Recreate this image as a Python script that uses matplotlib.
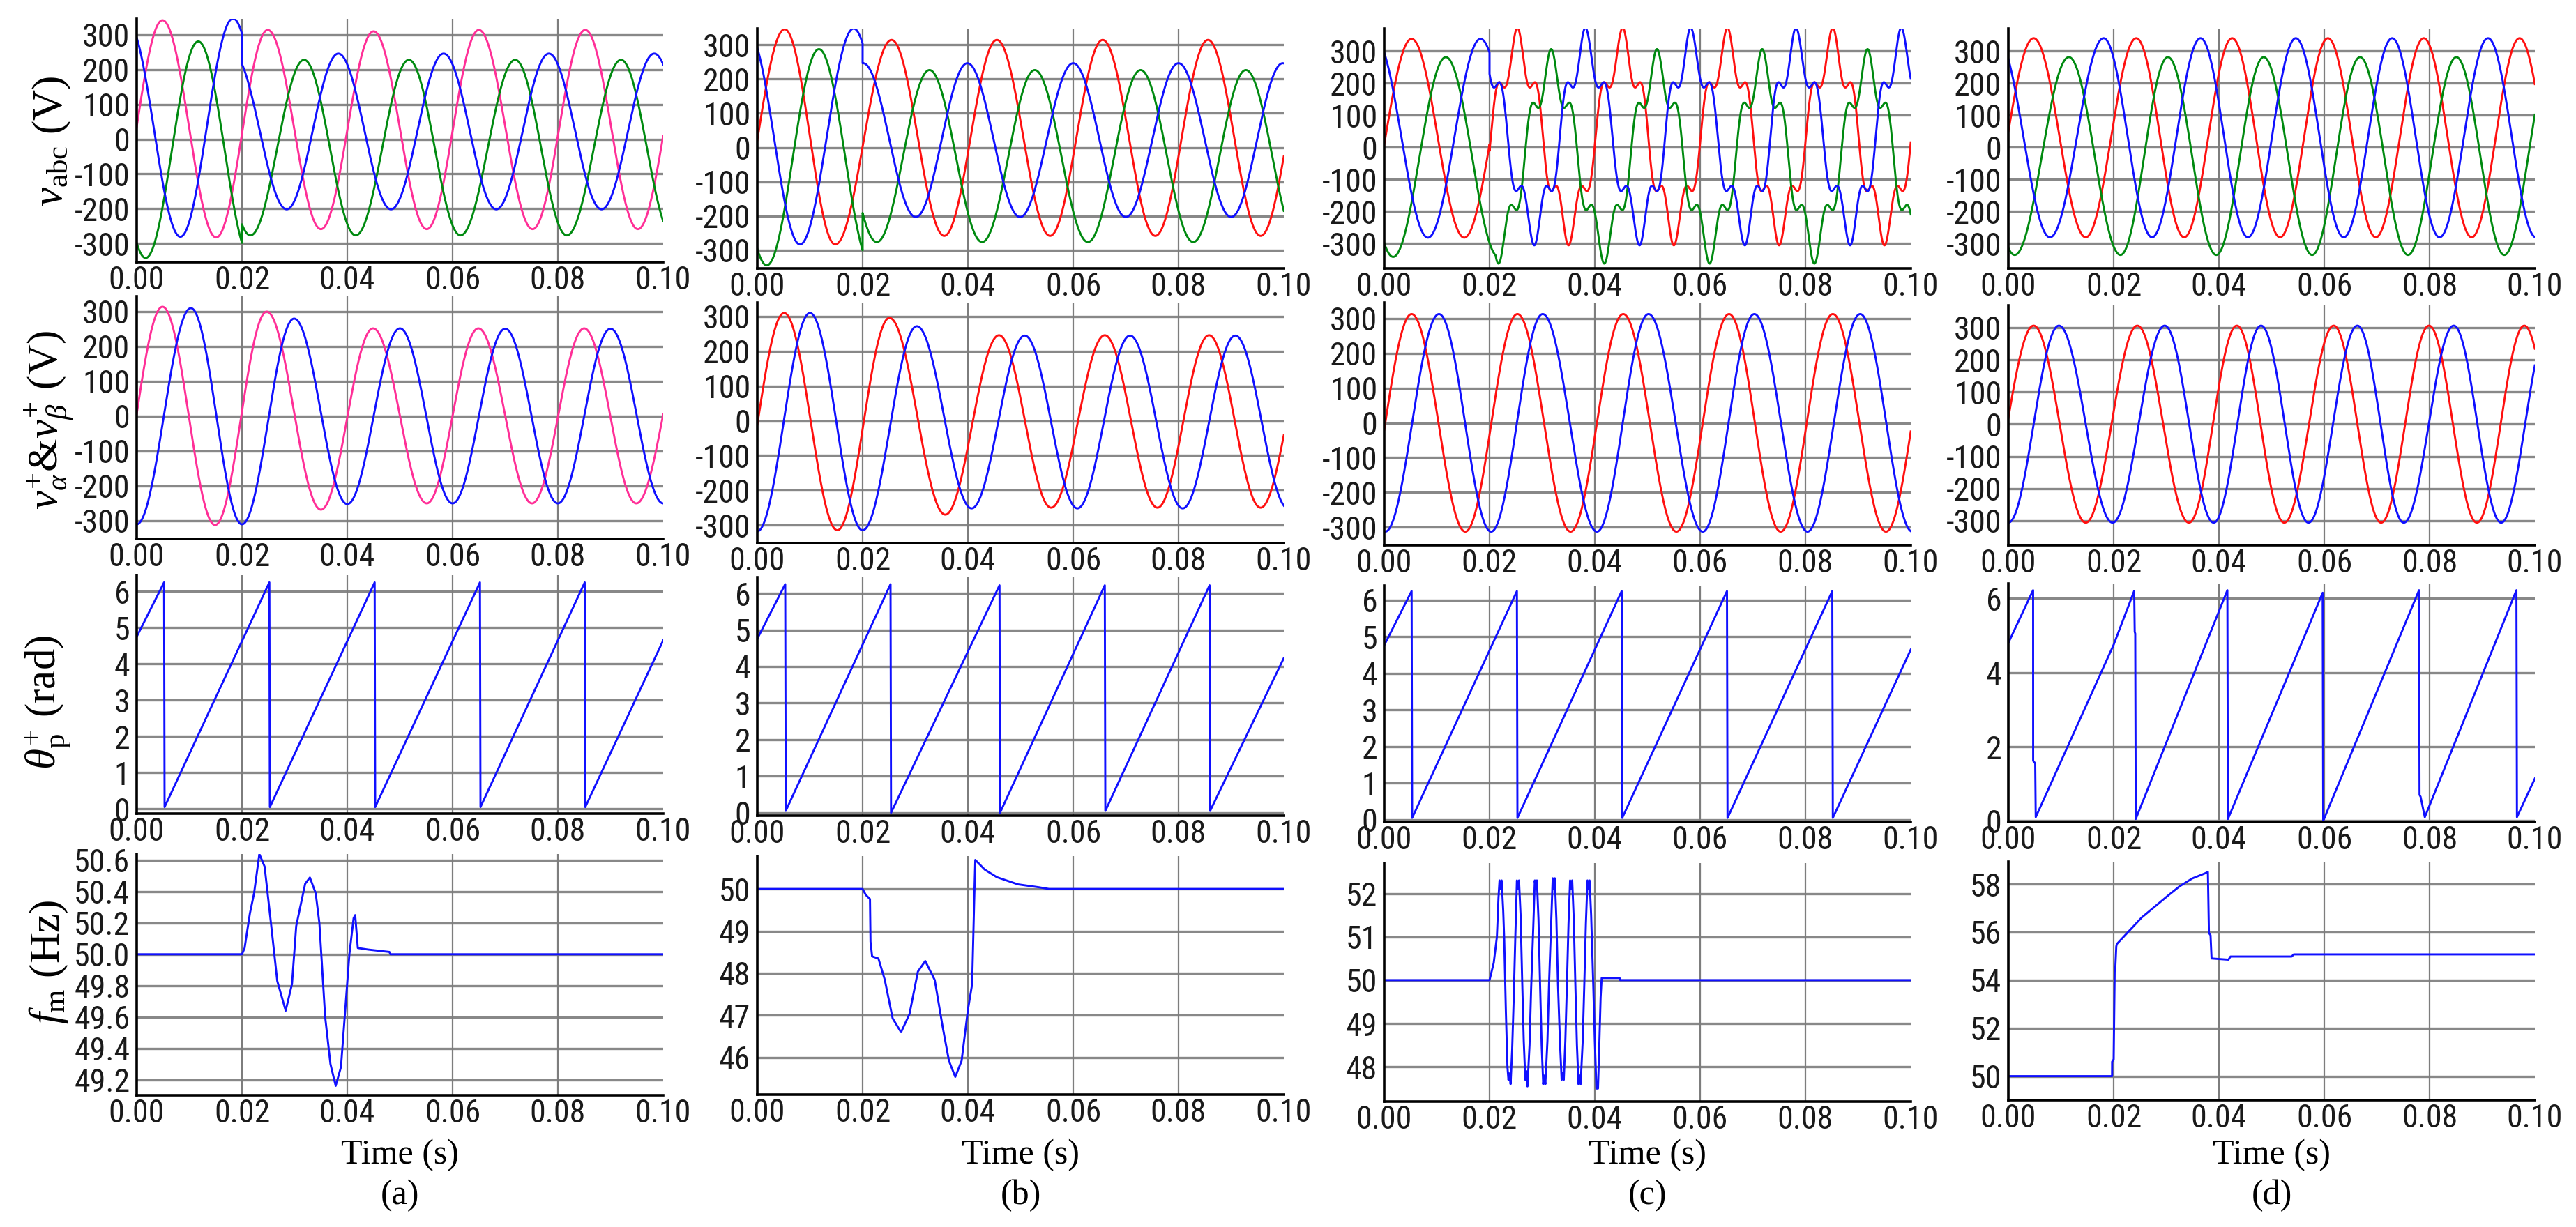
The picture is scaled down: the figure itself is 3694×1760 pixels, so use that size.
import os
import numpy as np
import matplotlib
matplotlib.use("Agg")
import matplotlib.pyplot as plt
from matplotlib import font_manager
from matplotlib.font_manager import FontProperties

# ---------------- data ----------------
FAULT_T = 0.02
C_GREEN_SWITCH = 0.0212
C_K5 = 0.18          # 5th-harmonic share of the distorted voltages in (c)

# ---- column (a) ----
A_R1_PINK_T = [-0.0050, 0.0049, 0.0151, 0.0249, 0.0350, 0.0450, 0.0551, 0.0650, 0.0752, 0.0852, 0.0952, 0.1052]
A_R1_PINK_V = [-282, 342, -283, 314, -259, 310, -259, 314, -259, 314, -259, 314]
A_R1_BLUE_PRE_T = [-0.0017, 0.0083, 0.0183, 0.0283]
A_R1_BLUE_PRE_V = [335, -281, 347, -281]
A_R1_BLUE_POST_T = [0.0183, 0.0285, 0.0383, 0.0483, 0.0583, 0.0683, 0.0783, 0.0883, 0.0983, 0.1083]
A_R1_BLUE_POST_V = [246, -202, 246, -202, 246, -202, 246, -202, 246, -202]
A_R1_GREEN_PRE_T = [-0.0083, 0.0017, 0.0117, 0.0217]
A_R1_GREEN_PRE_V = [281, -342, 281, -342]
A_R1_GREEN_POST_T = [0.0117, 0.0216, 0.0318, 0.0416, 0.0517, 0.0615, 0.0719, 0.0817, 0.0920, 0.1018]
A_R1_GREEN_POST_V = [228, -277, 228, -277, 228, -277, 228, -277, 228, -277]
A_R2_ALPHA_T = [-0.0050, 0.0049, 0.0149, 0.0247, 0.0350, 0.0449, 0.0551, 0.0649, 0.0751, 0.0850, 0.0949, 0.1050]
A_R2_ALPHA_V = [-312, 314, -312, 300, -268, 252, -250, 252, -250, 252, -250, 252]
A_R2_BETA_T = [-0.0100, 0.0000, 0.0103, 0.0200, 0.0299, 0.0400, 0.0500, 0.0600, 0.0700, 0.0800, 0.0900, 0.1000, 0.1100]
A_R2_BETA_V = [310, -310, 310, -310, 280, -252, 252, -250, 251, -250, 251, -250, 251]
A_R3_T = [0.0, 0.0052, 0.0053, 0.0252, 0.0253, 0.0452, 0.0453, 0.0652, 0.0653, 0.0851, 0.0852, 0.1]
A_R3_V = [4.75, 6.25, 0.05, 6.25, 0.05, 6.25, 0.05, 6.25, 0.05, 6.25, 0.05, 4.65]
A_R4_T = [0.0, 0.0200, 0.0205, 0.0215, 0.0223, 0.0233, 0.0243, 0.0255, 0.0267, 0.0283, 0.0295, 0.0303,
          0.0320, 0.0329, 0.0340, 0.0347, 0.0358, 0.0368, 0.0378, 0.0388, 0.0396, 0.0404, 0.0412, 0.0415,
          0.0420, 0.0440, 0.0480, 0.0482, 0.1]
A_R4_F = [50.0, 50.0, 50.04, 50.26, 50.39, 50.64, 50.56, 50.20, 49.83, 49.64, 49.81, 50.18,
          50.45, 50.49, 50.39, 50.20, 49.60, 49.30, 49.16, 49.28, 49.64, 50.00, 50.23, 50.25,
          50.04, 50.03, 50.015, 50.0, 50.0]

# ---- column (b) ----
B_R1_RED_T = [-0.0050, 0.0052, 0.0148, 0.0255, 0.0355, 0.0455, 0.0556, 0.0656, 0.0756, 0.0856, 0.0956, 0.1056]
B_R1_RED_V = [-282, 345, -283, 314, -258, 314, -258, 314, -258, 314, -258, 314]
B_R1_BLUE_PRE_T = [-0.0017, 0.0081, 0.0183, 0.0283]
B_R1_BLUE_PRE_V = [335, -283, 347, -281]
B_R1_BLUE_POST_T = [0.0201, 0.0301, 0.0399, 0.0499, 0.0600, 0.0700, 0.0800, 0.0900, 0.0998, 0.1098]
B_R1_BLUE_POST_V = [246, -203, 246, -203, 246, -203, 246, -203, 246, -203]
B_R1_GREEN_PRE_T = [-0.0083, 0.0018, 0.0117, 0.0217]
B_R1_GREEN_PRE_V = [287, -344, 287, -344]
B_R1_GREEN_POST_T = [0.0127, 0.0227, 0.0327, 0.0427, 0.0527, 0.0628, 0.0728, 0.0828, 0.0928, 0.1028]
B_R1_GREEN_POST_V = [226, -276, 226, -276, 226, -276, 226, -276, 226, -276]
B_R2_ALPHA_T = [-0.0049, 0.0051, 0.0152, 0.0251, 0.0357, 0.0459, 0.0558, 0.0660, 0.0760, 0.0858, 0.0956, 0.1054]
B_R2_ALPHA_V = [-312, 310, -315, 296, -270, 246, -250, 246, -250, 246, -250, 246]
B_R2_BETA_T = [-0.0100, 0.0000, 0.0100, 0.0200, 0.0303, 0.0407, 0.0508, 0.0608, 0.0708, 0.0808, 0.0908, 0.1008]
B_R2_BETA_V = [310, -318, 310, -315, 272, -252, 245, -252, 245, -252, 245, -252]
B_R3_T = [0.0, 0.0053, 0.0054, 0.0253, 0.0254, 0.0460, 0.0461, 0.0660, 0.0661, 0.0859, 0.0860, 0.1]
B_R3_V = [4.76, 6.25, 0.05, 6.25, 0.0, 6.22, 0.0, 6.22, 0.05, 6.22, 0.05, 4.23]
B_R4_T = [0.0, 0.0200, 0.0206, 0.0214, 0.0215, 0.0218, 0.0230, 0.0242, 0.0257, 0.0273, 0.0289, 0.0305,
          0.0319, 0.0337, 0.0352, 0.0364, 0.0376, 0.0388, 0.0400, 0.0408, 0.0412, 0.0414, 0.0432, 0.0455,
          0.0495, 0.0535, 0.0554, 0.1]
B_R4_F = [50.0, 50.0, 49.86, 49.76, 48.75, 48.40, 48.35, 47.85, 46.93, 46.60, 47.03, 48.04,
          48.29, 47.84, 46.73, 45.92, 45.54, 45.92, 47.13, 47.74, 49.76, 50.69, 50.46, 50.28,
          50.11, 50.04, 50.0, 50.0]

# ---- column (c) ----
C_R1_RED_PRE_T = [-0.0048, 0.0052, 0.0152, 0.0252]
C_R1_RED_PRE_V = [-282, 338, -282, 338]
C_R1_RED_POST_T = [0.0152, 0.0253, 0.0350, 0.0453, 0.0550, 0.0652, 0.0750, 0.0852, 0.0950, 0.1052]
C_R1_RED_POST_V = [-306, 372, -306, 372, -306, 372, -306, 372, -306, 372]
C_R1_BLUE_PRE_T = [-0.0017, 0.0083, 0.0183, 0.0283]
C_R1_BLUE_PRE_V = [338, -282, 338, -282]
C_R1_BLUE_POST_T = [0.0184, 0.0285, 0.0382, 0.0485, 0.0582, 0.0685, 0.0782, 0.0885, 0.0982, 0.1085]
C_R1_BLUE_POST_V = [372, -306, 372, -306, 372, -306, 372, -306, 372, -306]
C_R1_GREEN_PRE_T = [-0.0083, 0.0017, 0.0117, 0.0217]
C_R1_GREEN_PRE_V = [281, -342, 281, -342]
C_R1_GREEN_POST_T = [0.0117, 0.0217, 0.0317, 0.0418, 0.0518, 0.0618, 0.0718, 0.0817, 0.0918, 0.1017]
C_R1_GREEN_POST_V = [306, -363, 306, -363, 306, -363, 306, -363, 306, -363]
C_R2_ALPHA_T = [-0.0048, 0.0052, 0.0154, 0.0253, 0.0354, 0.0454, 0.0555, 0.0655, 0.0753, 0.0852, 0.0953, 0.1052]
C_R2_ALPHA_V = [-313, 313, -313, 313, -313, 313, -313, 313, -313, 313, -313, 313]
C_R2_BETA_T = [-0.0098, 0.0002, 0.0104, 0.0203, 0.0301, 0.0404, 0.0502, 0.0605, 0.0703, 0.0804, 0.0904, 0.1003, 0.1103]
C_R2_BETA_V = [313, -313, 313, -313, 313, -313, 313, -313, 313, -313, 313, -313, 313]
C_R3_T = [0.0, 0.0052, 0.0053, 0.0252, 0.0253, 0.0451, 0.0452, 0.0651, 0.0652, 0.0851, 0.0852, 0.1]
C_R3_V = [4.77, 6.25, 0.05, 6.25, 0.05, 6.25, 0.05, 6.25, 0.05, 6.25, 0.05, 4.65]
C_R4_T = [0.0, 0.0200, 0.0208, 0.0214, 0.0217, 0.0219, 0.0221, 0.0223, 0.0226, 0.0228, 0.0231, 0.0234,
          0.0236, 0.0238, 0.0240, 0.0243, 0.0246, 0.0249, 0.0252, 0.0254, 0.0256, 0.0259, 0.0262, 0.0265,
          0.0268, 0.0270, 0.0272, 0.0276, 0.0279, 0.0283, 0.0286, 0.0288, 0.0290, 0.0293, 0.0296, 0.0299,
          0.0302, 0.0304, 0.0306, 0.0310, 0.0313, 0.0317, 0.0320, 0.0322, 0.0324, 0.0327, 0.0330, 0.0334,
          0.0337, 0.0339, 0.0341, 0.0344, 0.0347, 0.0350, 0.0353, 0.0355, 0.0357, 0.0360, 0.0363, 0.0366,
          0.0369, 0.0371, 0.0373, 0.0377, 0.0380, 0.0383, 0.0386, 0.0388, 0.0390, 0.0393, 0.0397, 0.0400,
          0.0403, 0.0406, 0.0408, 0.0411, 0.0413, 0.0447, 0.0448, 0.1]
C_R4_F = [50.0, 50.0, 50.4, 51.0, 51.9, 52.3, 52.1, 52.3, 51.6, 50.9, 49.3, 48.0,
          47.7, 47.85, 47.6, 48.4, 49.6, 51.0, 52.3, 52.1, 52.3, 51.5, 50.0, 48.6,
          47.7, 47.9, 47.55, 48.5, 49.8, 51.2, 52.3, 52.1, 52.3, 51.4, 49.9, 48.5,
          47.6, 47.8, 47.6, 48.6, 49.9, 51.3, 52.35, 52.1, 52.35, 51.4, 49.9, 48.5,
          47.7, 47.85, 47.7, 48.6, 49.9, 51.3, 52.3, 52.1, 52.3, 51.4, 49.9, 48.5,
          47.6, 47.8, 47.6, 48.6, 49.9, 51.3, 52.3, 52.1, 52.3, 51.5, 49.9, 48.6,
          47.5, 47.5, 48.3, 49.6, 50.05, 50.05, 50.0, 50.0]

# ---- column (d) ----
D_R1_RED_T = [-0.0052, 0.0048, 0.0147, 0.0243, 0.0334, 0.0425, 0.0516, 0.0607, 0.0698, 0.0789, 0.0880, 0.0971, 0.1062]
D_R1_RED_V = [-281, 340, -281, 340, -281, 340, -281, 340, -281, 340, -281, 340, -281]
D_R1_BLUE_T = [-0.0021, 0.0079, 0.0181, 0.0273, 0.0365, 0.0455, 0.0546, 0.0637, 0.0729, 0.0819, 0.0911, 0.1002]
D_R1_BLUE_V = [340, -281, 340, -281, 340, -281, 340, -281, 340, -281, 340, -281]
D_R1_GREEN_T = [-0.0088, 0.0012, 0.0115, 0.0213, 0.0303, 0.0395, 0.0485, 0.0577, 0.0668, 0.0759, 0.0851, 0.0942, 0.1033]
D_R1_GREEN_V = [281, -336, 281, -336, 281, -336, 281, -336, 281, -336, 281, -336, 281]
D_R2_ALPHA_T = [-0.0052, 0.0048, 0.0147, 0.0245, 0.0343, 0.0434, 0.0524, 0.0618, 0.0708, 0.0799, 0.0890, 0.0980, 0.1070]
D_R2_ALPHA_V = [-306, 306, -306, 306, -306, 306, -306, 306, -306, 306, -306, 306, -306]
D_R2_BETA_T = [-0.0100, 0.0000, 0.0096, 0.0198, 0.0297, 0.0390, 0.0480, 0.0570, 0.0663, 0.0751, 0.0846, 0.0936, 0.1027]
D_R2_BETA_V = [306, -306, 306, -306, 306, -306, 306, -306, 306, -306, 306, -306, 306]
D_R3_T = [0.0, 0.0047, 0.00471, 0.0051, 0.0052, 0.0200, 0.0239, 0.0240, 0.0241, 0.0242, 0.0416, 0.0417,
          0.0597, 0.0598, 0.0780, 0.0781, 0.0783, 0.0791, 0.0965, 0.0966, 0.1]
D_R3_V = [4.80, 6.22, 1.62, 1.55, 0.10, 4.75, 6.20, 5.10, 5.05, 0.05, 6.22, 0.05,
          6.15, 0.0, 6.22, 0.70, 0.65, 0.10, 6.22, 0.10, 1.14]
D_R4_T = [0.0, 0.0197, 0.01971, 0.0200, 0.0202, 0.0203, 0.0205, 0.0206, 0.0253, 0.0305, 0.0325, 0.0349,
          0.0373, 0.0379, 0.0381, 0.0384, 0.0386, 0.0418, 0.0422, 0.0538, 0.0542, 0.1]
D_R4_F = [50.0, 50.0, 50.6, 50.7, 54.36, 54.44, 55.4, 55.5, 56.6, 57.55, 57.9, 58.23,
          58.44, 58.5, 55.96, 55.87, 54.9, 54.85, 54.98, 54.98, 55.07, 55.07]

# axis ticks / labels
X_TICKS = [0.0, 0.02, 0.04, 0.06, 0.08, 0.10]
X_TICKLABELS = ["0.00", "0.02", "0.04", "0.06", "0.08", "0.10"]
V_TICKS = [-300, -200, -100, 0, 100, 200, 300]
TH_TICKS_1 = [0, 1, 2, 3, 4, 5, 6]
TH_TICKS_2 = [0, 2, 4, 6]
F_TICKS = [[49.2, 49.4, 49.6, 49.8, 50.0, 50.2, 50.4, 50.6], [46, 47, 48, 49, 50], [48, 49, 50, 51, 52], [50, 52, 54, 56, 58]]
F_FMT = ["%.1f", "%d", "%d", "%d"]
Y_LABELS = [r"$v_{\mathrm{abc}}$ (V)", r"$v_{\alpha}^{+}$&$v_{\beta}^{+}$ (V)", r"$\theta_{\mathrm{p}}^{+}$ (rad)", r"$f_{\mathrm{m}}$ (Hz)"]
PANEL_TAGS = ["(a)", "(b)", "(c)", "(d)"]

# ---------------- styling / layout ----------------
W, H = 3694, 1760
PINK, RED, BLUE, GREEN = "#ff2f97", "#ff1010", "#1010ff", "#008a10"
names = {f.name for f in font_manager.fontManager.ttflist}
SERIF = "Liberation Serif" if "Liberation Serif" in names else "DejaVu Serif"


def find_narrow():
    files = [f.fname for f in font_manager.fontManager.ttflist]
    prefs = ["LiberationSansNarrow-Regular", "LiberationSansNarrow.", "ArialNarrow", "RobotoCondensed-Regular",
             "NotoSans-CondensedRegular", "NotoSans-Condensed.", "OpenSans-CondensedRegular",
             "OpenSans_Condensed-Regular", "DejaVuSansCondensed."]
    for p in prefs:
        for fn in files:
            if os.path.basename(fn).startswith(p):
                return fn
    bad = ("bold", "italic", "oblique", "light", "thin", "black", "medium", "semi", "extra", "mono", "serif")
    for fn in files:
        b = os.path.basename(fn).lower()
        if ("narrow" in b or "condensed" in b) and not any(k in b for k in bad):
            return fn
    return None


_nf = find_narrow()
if _nf is not None and ("Narrow" in _nf or "RobotoCondensed" in _nf):
    TICK_FP = FontProperties(fname=_nf, size=33)
elif _nf is not None:
    TICK_FP = FontProperties(fname=_nf, size=31)
else:
    TICK_FP = FontProperties(family="Liberation Sans" if "Liberation Sans" in names else "DejaVu Sans", size=30)

plt.rcParams["axes.unicode_minus"] = False
plt.rcParams["mathtext.fontset"] = "custom"
plt.rcParams["mathtext.rm"] = SERIF
plt.rcParams["mathtext.it"] = SERIF + ":italic"
plt.rcParams["mathtext.bf"] = SERIF + ":bold"

COL_LEFT = [196, 1086, 1985, 2880]
AX_W = 755
ROW_TOP = [[27, 41, 41, 41], [425, 434, 434, 438], [825, 828, 840, 837], [1225, 1228, 1238, 1236]]
ROW_BOT = [[376, 385, 385, 385], [773, 779, 782, 782], [1167, 1170, 1179, 1179], [1571, 1570, 1580, 1578]]
YLIMS = [[(-354, 346), (-353, 347), (-378, 370), (-378, 370)],
         [(-352, 344), (-352, 340), (-352, 346), (-376, 369)],
         [(-0.13, 6.45), (-0.08, 6.44), (-0.06, 6.40), (-0.03, 6.40)],
         [(49.10, 50.64), (45.12, 50.78), (47.2, 52.7), (49.0, 58.93)]]


def wave(t, T, V, k5=0.0):
    T = np.asarray(T, float)
    V = np.asarray(V, float)
    i = np.clip(np.searchsorted(T, t, side="right") - 1, 0, len(T) - 2)
    s = (t - T[i]) / (T[i + 1] - T[i])
    mid = (V[i] + V[i + 1]) / 2
    half = (V[i] - V[i + 1]) / 2
    th = np.pi * s
    return mid + half * ((1 - k5) * np.cos(th) + k5 * np.cos(5 * th))


def series(parts):
    ts, vs = [], []
    for (t0, t1, T, V, k5) in parts:
        t = np.linspace(t0, t1, max(int((t1 - t0) * 40000), 2))
        ts.append(t)
        vs.append(wave(t, T, V, k5))
    return np.concatenate(ts), np.concatenate(vs)


fig = plt.figure(figsize=(W / 100, H / 100), dpi=100)

axes = [[None] * 4 for _ in range(4)]
for r in range(4):
    for c in range(4):
        top, bot = ROW_TOP[r][c], ROW_BOT[r][c]
        ax = fig.add_axes([COL_LEFT[c] / W, 1 - bot / H, AX_W / W, (bot - top) / H])
        axes[r][c] = ax
        ax.set_xlim(0, 0.1)
        ax.set_ylim(*YLIMS[r][c])
        if r < 2:
            yt = V_TICKS
            ylab = [str(v) for v in yt]
        elif r == 2:
            yt = TH_TICKS_2 if c == 3 else TH_TICKS_1
            ylab = [str(v) for v in yt]
        else:
            yt = F_TICKS[c]
            ylab = [F_FMT[c] % v for v in yt]
        ax.set_xticks(X_TICKS)
        ax.set_xticklabels(X_TICKLABELS, fontproperties=TICK_FP, color="#1a1a1a")
        ax.set_yticks(yt)
        ax.set_yticklabels(ylab, fontproperties=TICK_FP, color="#1a1a1a")
        for y in yt:
            ax.axhline(y, color="#888888", lw=2.4, zorder=1)
        for x in X_TICKS[1:-1]:
            ax.axvline(x, color="#7d7d7d", lw=1.6, zorder=1)
        for sp in ("top", "right"):
            ax.spines[sp].set_visible(False)
        for sp in ("left", "bottom"):
            ax.spines[sp].set_linewidth(2.6)
            ax.spines[sp].set_color("black")
            ax.spines[sp].set_zorder(5)
        ax.tick_params(length=0)
        ax.tick_params(axis="y", pad=7)
        ax.tick_params(axis="x", pad=3)

LW = 2.1
T_END = 0.1

# ----- row 1 -----
ax = axes[0][0]
ax.plot(*series([(0, T_END, A_R1_PINK_T, A_R1_PINK_V, 0)]), color=PINK, lw=LW, zorder=3)
ax.plot(*series([(0, FAULT_T, A_R1_GREEN_PRE_T, A_R1_GREEN_PRE_V, 0), (FAULT_T, T_END, A_R1_GREEN_POST_T, A_R1_GREEN_POST_V, 0)]), color=GREEN, lw=LW, zorder=3)
ax.plot(*series([(0, FAULT_T, A_R1_BLUE_PRE_T, A_R1_BLUE_PRE_V, 0), (FAULT_T, T_END, A_R1_BLUE_POST_T, A_R1_BLUE_POST_V, 0)]), color=BLUE, lw=LW, zorder=3)

ax = axes[0][1]
ax.plot(*series([(0, T_END, B_R1_RED_T, B_R1_RED_V, 0)]), color=RED, lw=LW, zorder=3)
ax.plot(*series([(0, FAULT_T, B_R1_GREEN_PRE_T, B_R1_GREEN_PRE_V, 0), (FAULT_T, T_END, B_R1_GREEN_POST_T, B_R1_GREEN_POST_V, 0)]), color=GREEN, lw=LW, zorder=3)
ax.plot(*series([(0, FAULT_T, B_R1_BLUE_PRE_T, B_R1_BLUE_PRE_V, 0), (FAULT_T, T_END, B_R1_BLUE_POST_T, B_R1_BLUE_POST_V, 0)]), color=BLUE, lw=LW, zorder=3)

ax = axes[0][2]
ax.plot(*series([(0, FAULT_T, C_R1_RED_PRE_T, C_R1_RED_PRE_V, 0), (FAULT_T, T_END, C_R1_RED_POST_T, C_R1_RED_POST_V, C_K5)]), color=RED, lw=LW, zorder=3)
ax.plot(*series([(0, C_GREEN_SWITCH, C_R1_GREEN_PRE_T, C_R1_GREEN_PRE_V, 0), (C_GREEN_SWITCH, T_END, C_R1_GREEN_POST_T, C_R1_GREEN_POST_V, C_K5)]), color=GREEN, lw=LW, zorder=3)
ax.plot(*series([(0, FAULT_T, C_R1_BLUE_PRE_T, C_R1_BLUE_PRE_V, 0), (FAULT_T, T_END, C_R1_BLUE_POST_T, C_R1_BLUE_POST_V, C_K5)]), color=BLUE, lw=LW, zorder=3)

ax = axes[0][3]
ax.plot(*series([(0, T_END, D_R1_RED_T, D_R1_RED_V, 0)]), color=RED, lw=LW, zorder=3)
ax.plot(*series([(0, T_END, D_R1_GREEN_T, D_R1_GREEN_V, 0)]), color=GREEN, lw=LW, zorder=3)
ax.plot(*series([(0, T_END, D_R1_BLUE_T, D_R1_BLUE_V, 0)]), color=BLUE, lw=LW, zorder=3)

# ----- row 2 -----
r2 = [(A_R2_ALPHA_T, A_R2_ALPHA_V, A_R2_BETA_T, A_R2_BETA_V, PINK),
      (B_R2_ALPHA_T, B_R2_ALPHA_V, B_R2_BETA_T, B_R2_BETA_V, RED),
      (C_R2_ALPHA_T, C_R2_ALPHA_V, C_R2_BETA_T, C_R2_BETA_V, RED),
      (D_R2_ALPHA_T, D_R2_ALPHA_V, D_R2_BETA_T, D_R2_BETA_V, RED)]
for c, (at, av, bt, bv, acol) in enumerate(r2):
    ax = axes[1][c]
    ax.plot(*series([(0, T_END, at, av, 0)]), color=acol, lw=LW, zorder=3)
    ax.plot(*series([(0, T_END, bt, bv, 0)]), color=BLUE, lw=LW, zorder=3)

# ----- rows 3 and 4 -----
r3 = [(A_R3_T, A_R3_V), (B_R3_T, B_R3_V), (C_R3_T, C_R3_V), (D_R3_T, D_R3_V)]
r4 = [(A_R4_T, A_R4_F), (B_R4_T, B_R4_F), (C_R4_T, C_R4_F), (D_R4_T, D_R4_F)]
for c in range(4):
    axes[2][c].plot(r3[c][0], r3[c][1], color=BLUE, lw=LW, zorder=3)
    axes[3][c].plot(r4[c][0], r4[c][1], color=BLUE, lw=LW, zorder=3)

# ----- labels -----
LABEL_Y = [202, 603, 1007, 1380]
LABEL_X = [74, 70, 68, 70]
for r in range(4):
    fig.text(LABEL_X[r] / W, 1 - LABEL_Y[r] / H, Y_LABELS[r], rotation=90, ha="center", va="center",
             fontsize=44, family=SERIF)
for c in range(4):
    xc = (COL_LEFT[c] + AX_W / 2) / W
    fig.text(xc, 1 - 1657 / H, "Time (s)", ha="center", va="center", fontsize=36, family=SERIF)
    fig.text(xc, 1 - 1715 / H, PANEL_TAGS[c], ha="center", va="center", fontsize=36, family=SERIF)

fig.savefig("out.png", dpi=100, facecolor="white")
